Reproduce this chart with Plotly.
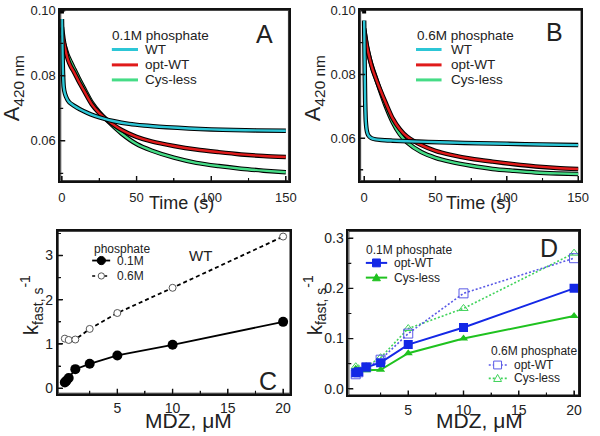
import plotly.graph_objects as go

# ---------------- data ----------------
# Panel A (0.1M phosphate) kinetic traces, A420 vs time (s)
a_wt_time = [0, 0.3, 0.7, 1.2, 2, 3.5, 5, 8, 12, 17, 22, 28, 35, 45, 55, 70, 85, 100, 115, 130, 150]
a_wt = [0.0975, 0.0900, 0.0810, 0.0765, 0.0745, 0.0728, 0.0718, 0.0708, 0.0697, 0.0686, 0.0677,
        0.0668, 0.0660, 0.0652, 0.0647, 0.0642, 0.0638, 0.0635, 0.0633, 0.0632, 0.0631]
a_slow_time = [0, 1, 2, 4, 6, 8, 11, 15, 20, 25, 30, 40, 50, 60, 75, 90, 105, 120, 135, 150]
a_opt = [0.0950, 0.0915, 0.0888, 0.0850, 0.0828, 0.0812, 0.0785, 0.0752, 0.0712, 0.0685, 0.0665,
         0.0633, 0.0612, 0.0598, 0.0584, 0.0573, 0.0565, 0.0558, 0.0553, 0.0550]
a_cys = [0.0925, 0.0905, 0.0890, 0.0862, 0.0842, 0.0823, 0.0795, 0.0760, 0.0718, 0.0688, 0.0664,
         0.0622, 0.0590, 0.0570, 0.0548, 0.0532, 0.0522, 0.0514, 0.0508, 0.0503]
a_first_t = [0]
a_first_v = [0.0998]

# Panel B (0.6M phosphate)
b_wt_time = [0, 0.3, 0.7, 1.2, 2, 3, 5, 8, 12, 20, 30, 45, 60, 80, 100, 125, 150]
b_wt = [0.0970, 0.0850, 0.0720, 0.0650, 0.0620, 0.0608, 0.0600, 0.0596, 0.0594, 0.0592, 0.0590,
        0.0588, 0.0586, 0.0584, 0.0582, 0.0580, 0.0578]
b_slow_time = [0, 1, 2, 4, 6, 8, 11, 15, 20, 25, 30, 40, 50, 60, 75, 90, 105, 120, 135, 150]
b_opt = [0.0945, 0.0915, 0.0888, 0.0848, 0.0815, 0.0790, 0.0755, 0.0712, 0.0662, 0.0628, 0.0605,
         0.0578, 0.0560, 0.0548, 0.0535, 0.0526, 0.0518, 0.0511, 0.0506, 0.0503]
b_cys = [0.0940, 0.0912, 0.0885, 0.0848, 0.0818, 0.0792, 0.0752, 0.0702, 0.0650, 0.0612, 0.0587,
         0.0556, 0.0538, 0.0526, 0.0513, 0.0503, 0.0497, 0.0492, 0.0489, 0.0487]
b_first_t = [0]
b_first_v = [0.0998]

# Panel C (WT), k_fast vs MDZ
c_mdz_01 = [0.25, 0.4, 0.6, 1.2, 2.5, 5, 10, 20]
c_k_01 = [0.13, 0.17, 0.23, 0.43, 0.55, 0.74, 0.98, 1.50]
c_mdz_06 = [0.25, 0.6, 1.2, 2.5, 5, 10, 20]
c_k_06 = [1.12, 1.09, 1.10, 1.34, 1.70, 2.27, 3.43]

# Panel D, k_fast vs MDZ
d_mdz = [0.25, 0.5, 1.2, 2.5, 5, 10, 20]
d_opt_01 = [0.032, 0.034, 0.043, 0.052, 0.088, 0.122, 0.200]
d_cys_01 = [0.040, 0.036, 0.037, 0.038, 0.071, 0.100, 0.145]
d_opt_06 = [0.029, 0.033, 0.043, 0.058, 0.110, 0.190, 0.260]
d_cys_06 = [0.044, 0.040, 0.045, 0.062, 0.120, 0.160, 0.270]

# tick values / labels
t_time = [0, 50, 100, 150]
t_time_txt = ["0", "50", "100", "150"]
t_time_minor = [25, 75, 125]
t_abs = [0.06, 0.08, 0.10]
t_abs_txt = ["0.06", "0.08", "0.10"]
t_abs_minor = [0.05, 0.07, 0.09]
t_mdz = [5, 10, 15, 20]
t_mdz_txt = ["5", "10", "15", "20"]
t_mdz_minor = [2.5, 7.5, 12.5, 17.5]
t_kc = [0, 1, 2, 3]
t_kc_txt = ["0", "1", "2", "3"]
t_kc_minor = [0.5, 1.5, 2.5, 3.5]
t_kd = [0, 0.1, 0.2, 0.3]
t_kd_txt = ["0.0", "0.1", "0.2", "0.3"]
t_kd_minor = [0.05, 0.15, 0.25]

# ---------------- styling ----------------
W, H = 600, 436
FONT = "Liberation Sans, Arial, sans-serif"
CYAN = "#2cc6d6"
RED = "#e01b1b"
LGREEN = "#45dc86"
BLUE = "#1428e6"
BLUE_L = "#5a5ae6"
GREEN = "#1fc21f"
GREEN_L = "#3fd25a"
INK = "#111111"


def X(px):
    return px / W


def Y(py):
    return 1 - py / H


# axis geometry (domains in paper fractions, ranges in data units)
geo = {
    "x": ([X(59.3), X(291.7)], [-1.1, 152]),
    "y": ([Y(178.3), Y(4)], [0.0476, 0.1003]),
    "x2": ([X(364.3), X(589.3)], [-2.75, 152.3]),
    "y2": ([Y(178.3), Y(4)], [0.0465, 0.1003]),
    "x3": ([X(56.7), X(293.3)], [-0.39, 20.66]),
    "y3": ([Y(395), Y(229)], [-0.127, 3.56]),
    "x4": ([X(352.3), X(586.7)], [-0.41, 20.44]),
    "y4": ([Y(396.7), Y(229)], [-0.0131, 0.3145]),
}

fig = go.Figure()


def trace_pair(t, v, color, xa, ya):
    fig.add_trace(go.Scatter(x=t, y=v, mode="lines", xaxis=xa, yaxis=ya, showlegend=False,
                             line=dict(color="black", width=4.5, shape="spline", smoothing=0.8),
                             hoverinfo="skip"))
    fig.add_trace(go.Scatter(x=t, y=v, mode="lines", xaxis=xa, yaxis=ya, showlegend=False,
                             line=dict(color=color, width=2.4, shape="spline", smoothing=0.8)))


# Panel A
trace_pair(a_slow_time, a_cys, LGREEN, "x", "y")
trace_pair(a_slow_time, a_opt, RED, "x", "y")
trace_pair(a_wt_time, a_wt, CYAN, "x", "y")
fig.add_trace(go.Scatter(x=a_first_t, y=a_first_v, mode="markers", xaxis="x", yaxis="y", showlegend=False,
                         marker=dict(symbol="square", size=4, color="black"), cliponaxis=False))
# Panel B
trace_pair(b_slow_time, b_cys, LGREEN, "x2", "y2")
trace_pair(b_slow_time, b_opt, RED, "x2", "y2")
trace_pair(b_wt_time, b_wt, CYAN, "x2", "y2")
fig.add_trace(go.Scatter(x=b_first_t, y=b_first_v, mode="markers", xaxis="x2", yaxis="y2", showlegend=False,
                         marker=dict(symbol="square", size=4, color="black"), cliponaxis=False))

# Panel C
fig.add_trace(go.Scatter(x=c_mdz_06, y=c_k_06, mode="lines+markers", xaxis="x3", yaxis="y3", showlegend=False,
                         line=dict(color="black", width=1.8, dash="4px,3px"),
                         marker=dict(symbol="circle", size=7, color="white",
                                     line=dict(color="#555", width=1))))
fig.add_trace(go.Scatter(x=c_mdz_01, y=c_k_01, mode="lines+markers", xaxis="x3", yaxis="y3", showlegend=False,
                         line=dict(color="black", width=1.8),
                         marker=dict(symbol="circle", size=10, color="black")))

# Panel D
fig.add_trace(go.Scatter(x=d_mdz, y=d_cys_06, mode="lines+markers", xaxis="x4", yaxis="y4", showlegend=False,
                         line=dict(color=GREEN_L, width=1.6, dash="2px,2px"),
                         marker=dict(symbol="triangle-up-open", size=8, color=GREEN_L, line=dict(width=1))))
fig.add_trace(go.Scatter(x=d_mdz, y=d_opt_06, mode="lines+markers", xaxis="x4", yaxis="y4", showlegend=False,
                         line=dict(color=BLUE_L, width=1.6, dash="2px,2px"),
                         marker=dict(symbol="square-open", size=9, color=BLUE_L, line=dict(width=1))))
fig.add_trace(go.Scatter(x=d_mdz, y=d_cys_01, mode="lines+markers", xaxis="x4", yaxis="y4", showlegend=False,
                         line=dict(color=GREEN, width=2),
                         marker=dict(symbol="triangle-up", size=8, color=GREEN)))
fig.add_trace(go.Scatter(x=d_mdz, y=d_opt_01, mode="lines+markers", xaxis="x4", yaxis="y4", showlegend=False,
                         line=dict(color=BLUE, width=2),
                         marker=dict(symbol="square", size=9, color=BLUE)))

# Panel frames and inward ticks, drawn in each panel's own data space from the axis ranges
panels = [
    ("x", "y", t_time, t_time_minor, t_abs, t_abs_minor),
    ("x2", "y2", t_time, t_time_minor, t_abs, t_abs_minor),
    ("x3", "y3", t_mdz, t_mdz_minor, t_kc, t_kc_minor),
    ("x4", "y4", t_mdz, t_mdz_minor, t_kd, t_kd_minor),
]
for xa, ya, xmaj, xmin, ymaj, ymin in panels:
    (xd, xr), (yd, yr) = geo[xa], geo[ya]
    x_per_px = (xr[1] - xr[0]) / ((xd[1] - xd[0]) * W)
    y_per_px = (yr[1] - yr[0]) / ((yd[1] - yd[0]) * H)
    fig.add_trace(go.Scatter(x=[xr[0], xr[1], xr[1], xr[0], xr[0]], y=[yr[0], yr[0], yr[1], yr[1], yr[0]],
                             mode="lines", xaxis=xa, yaxis=ya, showlegend=False, hoverinfo="skip",
                             cliponaxis=False, line=dict(color=INK, width=1.8)))
    for vals, ln, lw in [(xmaj, 5, 1.4), (xmin, 3, 1.1)]:
        tx, ty = [], []
        for v in vals:
            tx += [v, v, None]
            ty += [yr[0], yr[0] + ln * y_per_px, None]
        fig.add_trace(go.Scatter(x=tx, y=ty, mode="lines", xaxis=xa, yaxis=ya, showlegend=False,
                                 hoverinfo="skip", cliponaxis=False, line=dict(color=INK, width=lw)))
    for vals, ln, lw in [(ymaj, 5, 1.4), (ymin, 3, 1.1)]:
        tx, ty = [], []
        for v in vals:
            ty += [v, v, None]
            tx += [xr[0], xr[0] + ln * x_per_px, None]
        fig.add_trace(go.Scatter(x=tx, y=ty, mode="lines", xaxis=xa, yaxis=ya, showlegend=False,
                                 hoverinfo="skip", cliponaxis=False, line=dict(color=INK, width=lw)))


def axis(name, tickvals, ticktext, minor_vals, anchor, size=13, standoff=None):
    dom, rng = geo[name]
    d = dict(domain=dom, range=rng, anchor=anchor, showline=True, linecolor=INK,
             linewidth=1.8, mirror=True, ticks="inside", ticklen=5, tickwidth=1.4,
             tickcolor=INK, showgrid=False, zeroline=False, tickmode="array",
             tickvals=tickvals, ticktext=ticktext, ticklabeloverflow="allow",
             tickfont=dict(size=size, color="#222", family=FONT),
             minor=dict(ticks="inside", ticklen=3, tickwidth=1.1, tickcolor=INK,
                        tickmode="array", tickvals=minor_vals, showgrid=False))
    if standoff is not None:
        d["ticklabelstandoff"] = standoff
    return d


layout = dict(
    width=W, height=H, margin=dict(l=0, r=0, t=0, b=0),
    paper_bgcolor="white", plot_bgcolor="rgba(0,0,0,0)",
    font=dict(family=FONT, color="#222"),
    showlegend=False,
    xaxis=axis("x", t_time, t_time_txt, t_time_minor, "y", standoff=3),
    yaxis=axis("y", t_abs, t_abs_txt, t_abs_minor, "x"),
    xaxis2=axis("x2", t_time, t_time_txt, t_time_minor, "y2", standoff=3),
    yaxis2=axis("y2", t_abs, t_abs_txt, t_abs_minor, "x2"),
    xaxis3=axis("x3", t_mdz, t_mdz_txt, t_mdz_minor, "y3", 14, standoff=1),
    yaxis3=axis("y3", t_kc, t_kc_txt, t_kc_minor, "x3", 14),
    xaxis4=axis("x4", t_mdz, t_mdz_txt, t_mdz_minor, "y4", 14, standoff=1),
    yaxis4=axis("y4", t_kd, t_kd_txt, t_kd_minor, "x4", 14),
)
fig.update_layout(**layout)

ann = []
shapes = []


def text(x, y, s, size, xanchor="center", angle=0, color="#222"):
    ann.append(dict(x=X(x), y=Y(y), xref="paper", yref="paper", text=s, showarrow=False,
                    xanchor=xanchor, yanchor="middle", textangle=angle,
                    font=dict(size=size, family=FONT, color=color)))


def seg(x0, x1, y, color, width, dash="solid"):
    shapes.append(dict(type="line", xref="paper", yref="paper", x0=X(x0), x1=X(x1), y0=Y(y), y1=Y(y),
                       line=dict(color=color, width=width, dash=dash)))


def circle(cx, cy, r, fill, edge, lw=1):
    shapes.append(dict(type="circle", xref="paper", yref="paper", x0=X(cx - r), x1=X(cx + r),
                       y0=Y(cy + r), y1=Y(cy - r), fillcolor=fill, line=dict(color=edge, width=lw)))


def square(cx, cy, r, fill, edge, lw=1):
    shapes.append(dict(type="rect", xref="paper", yref="paper", x0=X(cx - r), x1=X(cx + r),
                       y0=Y(cy + r), y1=Y(cy - r), fillcolor=fill, line=dict(color=edge, width=lw)))


def tri(cx, cy, r, fill, edge, lw=1):
    p = "M{},{} L{},{} L{},{} Z".format(X(cx), Y(cy - r), X(cx - r), Y(cy + r * 0.8), X(cx + r), Y(cy + r * 0.8))
    shapes.append(dict(type="path", xref="paper", yref="paper", path=p, fillcolor=fill,
                       line=dict(color=edge, width=lw)))


# Axis titles
text(12, 84, "A<sub>420 nm</sub>", 22, angle=-90)
text(318, 84, "A<sub>420 nm</sub>", 22, angle=-90)
text(183, 201, "Time (s)", 18)
text(485, 201, "Time (s)", 18)
text(30, 305, "k<sub>fast, s</sub><sup>-1</sup>", 20, angle=-90)
text(318, 305, "k<sub>fast, s</sub><sup>-1</sup>", 20, angle=-90)
text(190, 422, "MDZ, μM", 21)
text(486, 422, "MDZ, μM", 21)

# Panel letters
text(266.7, 28.3, "A", 25)
text(561.7, 26.7, "B", 25)
text(270.8, 382.5, "C", 25)
text(556.7, 247, "D", 25)

# Legend A
text(110, 30, "0.1M phosphate", 13.5, "left")
for yy, col, lab in [(44.3, CYAN, "WT"), (60, RED, "opt-WT"), (75.3, LGREEN, "Cys-less")]:
    seg(111.7, 138.3, yy, col, 3)
    text(143, yy, lab, 13.5, "left")
# Legend B
text(420, 30, "0.6M phosphate", 13.5, "left")
for yy, col, lab in [(44.3, CYAN, "WT"), (60, RED, "opt-WT"), (75.3, LGREEN, "Cys-less")]:
    seg(421, 447, yy, col, 3)
    text(455, yy, lab, 13.5, "left")

# Legend C
text(91.7, 247.7, "phosphate", 12, "left")
seg(91.7, 110, 259.3, "black", 1.8)
circle(101, 259.3, 4.2, "black", "black")
text(115, 259.3, "0.1M", 12, "left")
seg(91.7, 110, 275, "black", 1.6, "3px,3px")
circle(101, 275, 3.2, "white", "#555")
text(115, 275, "0.6M", 12, "left")
text(201.7, 254.3, "WT", 15)

# Legend D upper
text(368.3, 248.3, "0.1M phosphate", 12, "left")
seg(370, 391.7, 261.7, BLUE, 2)
square(380.8, 261.7, 4, BLUE, BLUE)
text(396.7, 261.7, "opt-WT", 12, "left")
seg(370, 391.7, 276.7, GREEN, 2)
tri(380.8, 276.7, 4, GREEN, GREEN)
text(396.7, 276.7, "Cys-less", 12, "left")

# Legend D lower
text(495, 351.7, "0.6M phosphate", 12, "left")
seg(495, 513.3, 365.7, BLUE_L, 1.6, "2px,2px")
square(504, 365.7, 4, "white", BLUE_L)
text(518.3, 365.7, "opt-WT", 12, "left")
seg(495, 513.3, 379.3, GREEN_L, 1.6, "2px,2px")
tri(504, 379.3, 4, "white", GREEN_L)
text(518.3, 379.3, "Cys-less", 12, "left")

fig.update_layout(annotations=ann, shapes=shapes)
fig.write_html("out.html", config={"displayModeBar": False},
               post_script="document.body.style.margin='0px';")
